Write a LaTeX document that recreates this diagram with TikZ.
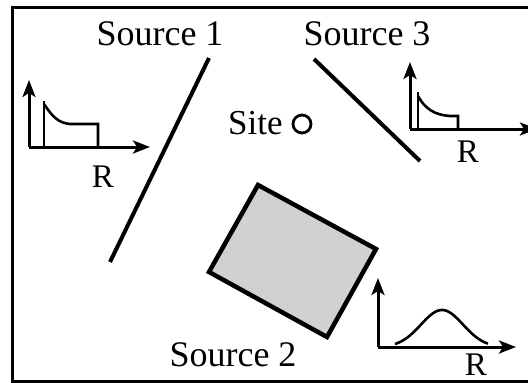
\documentclass[tikz,border=0pt]{standalone}
\usepackage{fontspec}
\setmainfont{Liberation Serif}
\usetikzlibrary{arrows.meta}
\begin{document}
\begin{tikzpicture}[x=1pt,y=-1pt,
  srcline/.style={line width=4pt},
  axis/.style={line width=3pt,-{Stealth[length=17pt,width=13pt,inset=4pt]}},
  curve/.style={line width=2.6pt},
  lbl/.style={inner sep=0pt,font=\fontsize{36}{40}\selectfont},
  rlbl/.style={inner sep=0pt,font=\fontsize{33}{36}\selectfont}]
\useasboundingbox (0,0) rectangle (528,383);
\clip (0,0) rectangle (528,383);
% labels
\node[lbl,anchor=base] (s1) at (160,45) {Source 1};
\node[lbl,anchor=base] (s3) at (367,45) {Source 3};
\node[lbl,anchor=base] (s2) at (233,366) {Source 2};
\node[rlbl,anchor=base west,font=\fontsize{35}{38}\selectfont] (site) at (228,134) {Site};
\draw[line width=2.8pt] (302,124) circle (9);
% source lines
\draw[srcline] (110,262) -- (209,58);
\draw[srcline] (314,59) -- (420,161);
% source 2 area
\draw[line width=4.5pt,fill=black!18,line join=miter] (258,185) -- (376,249) -- (327,337) -- (209,272) -- cycle;
% left plot
\coordinate (o1) at (29,147);
\draw[axis] (o1) -- (29,80);
\draw[axis] (o1) -- (150,147);
\draw[curve] (44,147) -- (44,101);
\draw[curve] (44,104) .. controls (52,116) and (58,123) .. (70,124) -- (98,124) -- (98,147);
\node[rlbl,anchor=base] (r1) at (103,187) {R};
% right plot
\coordinate (o3) at (410,129);
\draw[axis] (o3) -- (410,62);
\draw[axis] (o3) -- (537,129);
\draw[curve] (418,129) -- (418,92);
\draw[curve] (418,96) .. controls (425,109) and (435,115) .. (450,116) -- (458,116) -- (458,129);
\node[rlbl,anchor=base] (r3) at (468,162) {R};
% bottom plot
\coordinate (o2) at (378,347);
\draw[axis] (o2) -- (378,278);
\draw[axis] (o2) -- (516,347);
\draw[curve,domain=395:488,samples=60] plot (\x,{347-37*exp(-((\x-442)^2)/(2*21*21))});
\node[rlbl,anchor=base] (r2) at (476,375) {R};
% frame
\draw[line width=3pt] (12,7) rectangle (540,381);
\end{tikzpicture}
\end{document}
